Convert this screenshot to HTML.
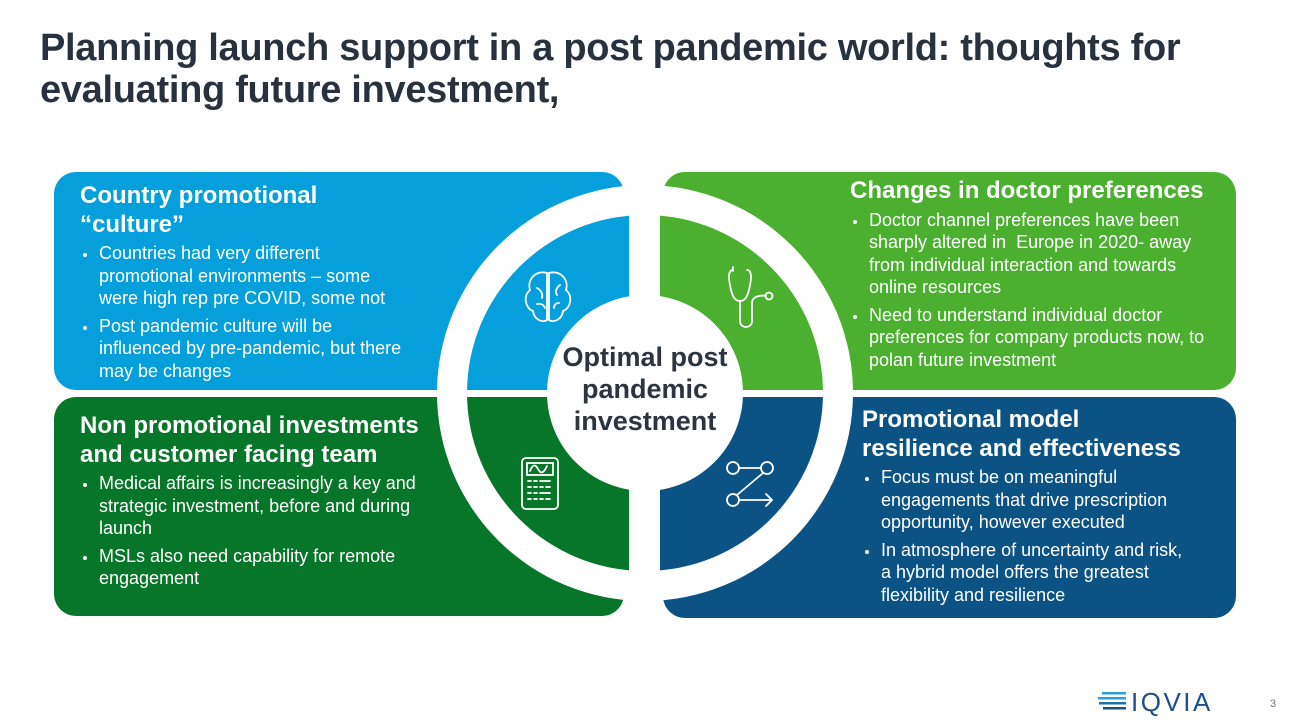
<!DOCTYPE html>
<html><head><meta charset="utf-8"><style>
body{margin:0;width:1290px;height:726px;background:#fff;position:relative;overflow:hidden;font-family:"Liberation Sans",Arial,sans-serif}
.t{position:absolute;left:40px;top:27px;font-size:38px;font-weight:bold;color:#28323f;line-height:42px;letter-spacing:-0.3px;white-space:nowrap}
.b{position:absolute;color:#fff;white-space:nowrap}
.h{font-size:24px;font-weight:bold;line-height:28.5px}
ul{margin:3px 0 0 0;padding:0 0 0 18px;font-size:18px;line-height:22.5px}
li{margin-bottom:5px;padding-left:1px}
li::marker{font-size:15px}
.c{position:absolute;left:535px;top:341px;width:220px;text-align:center;font-size:27px;font-weight:bold;color:#2b3440;line-height:32px}
</style></head><body>
<div class="t">Planning launch support in a post pandemic world: thoughts for<br>evaluating future investment,</div>
<svg width="1290" height="726" style="position:absolute;left:0;top:0">
<rect x="54" y="172" width="570" height="218" rx="22" fill="#05a0dc"/>
<rect x="663" y="172" width="573" height="218" rx="22" fill="#4bb02f"/>
<rect x="54" y="397" width="570" height="219" rx="22" fill="#087628"/>
<rect x="663" y="397" width="573" height="221" rx="22" fill="#0b5385"/>
<circle cx="645" cy="393" r="208" fill="#fff"/>
<path d="M645 393 L645 215 A178 178 0 0 0 467 393 Z" fill="#05a0dc"/>
<path d="M645 393 L645 215 A178 178 0 0 1 823 393 Z" fill="#4bb02f"/>
<path d="M645 393 L467 393 A178 178 0 0 0 645 571 Z" fill="#087628"/>
<path d="M645 393 L823 393 A178 178 0 0 1 645 571 Z" fill="#0b5385"/>
<rect x="629" y="150" width="31" height="480" fill="#fff"/>
<rect x="0" y="390" width="1290" height="7" fill="#fff"/>
<circle cx="645" cy="393" r="98" fill="#fff"/>
<g fill="none" stroke="#fff" stroke-width="1.8" stroke-linecap="round">
<path d="M547 273 C535 270 527 280 530 290 C523 296 525 308 533 311 C534 320 543 323 547 320 Z"/>
<path d="M549 273 C561 270 569 280 566 290 C573 296 571 308 563 311 C562 320 553 323 549 320 Z"/>
<path d="M537 288 c4 2 6 6 5 10 M560 285 c-4 3 -5 7 -3 10 M537 304 c4 -1 7 1 8 4 M559 303 c-3 0 -5 2 -5 5"/>
<path d="M733 271 v-4 M733 270 c-4 0 -5 6 -3 15 c2 12 5 16 10 16 c5 0 8 -4 10 -16 c2 -9 1 -15 -3 -15 M740 301 v20 c0 8 12 8 12 0 v-18 c0 -8 12 -8 14 -7"/>
<circle cx="769" cy="296" r="3.5"/>
<rect x="522" y="458" width="36" height="51" rx="4"/>
<rect x="527" y="463" width="26" height="12"/>
<path d="M530 471 c3 -8 6 -6 8 -2 c2 4 5 6 9 -3"/>
<path d="M528 481 h3 M534 481 h3 M540 481 h10 M528 487 h3 M534 487 h3 M540 487 h3 M546 487 h4 M528 493 h3 M534 493 h3 M540 493 h10 M528 499 h3 M534 499 h3 M540 499 h3 M546 499 h4"/>
<circle cx="733" cy="468" r="6"/><circle cx="767" cy="468" r="6"/><circle cx="733" cy="500" r="6"/>
<path d="M739 468 h22 M763 473 l-26 22 M739 500 h33 M766 494 l6 6 l-6 6"/>
</g>
<g>
<rect x="1102" y="692" width="24" height="2.5" fill="#2a9fd8"/>
<rect x="1098" y="697" width="28" height="2.5" fill="#2a9fd8"/>
<rect x="1099" y="702" width="27" height="2.5" fill="#1f6fa8"/>
<rect x="1103" y="707" width="23" height="2.5" fill="#1a4f80"/>
</g>
<text x="1131" y="711" font-family="Liberation Sans" font-size="26" fill="#1d4f8a" letter-spacing="2.5">IQVIA</text>
<text x="1270" y="707" font-family="Liberation Sans" font-size="11" fill="#777">3</text>
</svg>
<div class="c">Optimal post<br>pandemic<br>investment</div>
<div class="b" style="left:80px;top:182px"><div class="h">Country promotional<br>“culture”</div>
<ul><li>Countries had very different<br>promotional environments – some<br>were high rep pre COVID, some not</li><li>Post pandemic culture will be<br>influenced by pre-pandemic, but there<br>may be changes</li></ul></div>
<div class="b" style="left:850px;top:177px"><div class="h">Changes in doctor preferences</div>
<ul><li>Doctor channel preferences have been<br>sharply altered in&nbsp; Europe in 2020- away<br>from individual interaction and towards<br>online resources</li><li>Need to understand individual doctor<br>preferences for company products now, to<br>polan future investment</li></ul></div>
<div class="b" style="left:80px;top:412px"><div class="h">Non promotional investments<br>and customer facing team</div>
<ul><li>Medical affairs is increasingly a key and<br>strategic investment, before and during<br>launch</li><li>MSLs also need capability for remote<br>engagement</li></ul></div>
<div class="b" style="left:862px;top:406px"><div class="h">Promotional model<br>resilience and effectiveness</div>
<ul><li>Focus must be on meaningful<br>engagements that drive prescription<br>opportunity, however executed</li><li>In atmosphere of uncertainty and risk,<br>a hybrid model offers the greatest<br>flexibility and resilience</li></ul></div>
</body></html>
